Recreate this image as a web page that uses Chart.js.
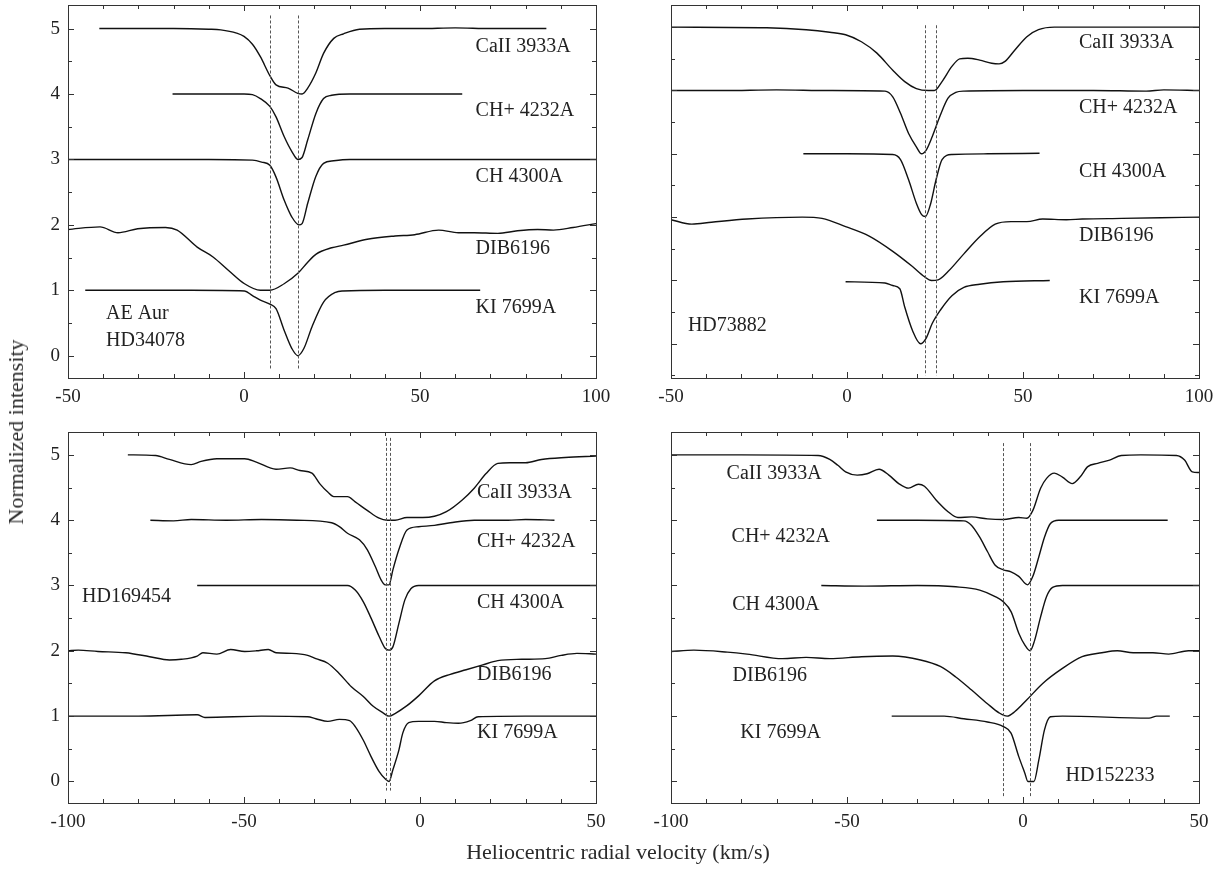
<!DOCTYPE html>
<html>
<head>
<meta charset="utf-8">
<script src="https://cdn.jsdelivr.net/npm/chart.js@4.4.1/dist/chart.umd.min.js"></script>
<style>
  body { margin: 0; background: #fff; width: 1228px; height: 869px; position: relative; overflow: hidden; }
  canvas { position: absolute; }
  .title { position: absolute; font-family: "Liberation Serif", serif; color: #2a2a2a; white-space: nowrap; font-size: 22px; }
</style>
</head>
<body>
<canvas id="p1" width="616" height="410" style="left:0;top:0"></canvas>
<canvas id="p2" width="618" height="410" style="left:610px;top:0"></canvas>
<canvas id="p3" width="616" height="430" style="left:0;top:420px"></canvas>
<canvas id="p4" width="618" height="430" style="left:610px;top:420px"></canvas>
<div class="title" style="left:618px;top:852px;transform:translate(-50%,-50%);">Heliocentric radial velocity (km/s)</div>
<div class="title" style="left:16px;top:432px;transform:translate(-50%,-50%) rotate(-90deg);">Normalized intensity</div>
<script>
// line names, same order in every panel
const lineNames = ["CaII 3933A", "CH+ 4232A", "CH 4300A", "DIB6196", "KI 7699A"];

// ---- panel 1: AE Aur / HD34078 ----
const p1CaII = [[-41.1,5.0],[-30,5.0],[-20,5.0],[-10,4.99],[-6.6,4.98],[-2.1,4.93],[0,4.88],[2.4,4.76],[4.65,4.57],[7.35,4.28],[9.1,4.14],[12.5,4.09],[15.3,4.01],[16.5,4.0],[18.1,4.09],[20.4,4.32],[22.6,4.62],[25.5,4.85],[28.3,4.92],[32.8,4.99],[40,5.0],[50,5.0],[60,5.01],[70,5.0],[80,5.0],[85.9,5.0]];
const p1CHp = [[-20.3,4.0],[-10,4.0],[0,4.0],[2.4,3.99],[4.65,3.93],[7.35,3.81],[9.1,3.65],[11.4,3.35],[13.6,3.12],[15.3,3.0],[16.5,3.03],[18.1,3.3],[20.4,3.7],[22.6,3.93],[24.9,3.98],[30,4.0],[45,4.0],[62,4.0]];
const p1CH = [[-50,3.0],[-30,3.0],[-10,3.0],[2.4,2.99],[5,2.96],[7.35,2.91],[9.1,2.73],[11.4,2.38],[13.6,2.12],[15.6,2.0],[16.5,2.02],[18.1,2.33],[20.4,2.74],[22.6,2.94],[25.5,2.98],[30,3.0],[60,3.0],[100,3.0]];
const p1DIB = [[-50,1.93],[-40.9,1.97],[-35.8,1.88],[-30.2,1.94],[-22.3,1.96],[-19,1.92],[-13.3,1.66],[-8.8,1.51],[-4.3,1.3],[0.15,1.1],[4.65,1.0],[7.35,1.0],[11.4,1.1],[15.3,1.26],[18.1,1.43],[20.4,1.55],[24.9,1.65],[28.3,1.69],[35,1.78],[42.9,1.83],[48.5,1.85],[55.3,1.92],[60.9,1.88],[65.4,1.88],[72.1,1.87],[77.7,1.91],[83.4,1.93],[87.9,1.92],[93.5,1.96],[100,2.02]];
const p1KI = [[-45.1,1.0],[-30,1.0],[-15,1.0],[0.15,0.99],[2.4,0.92],[4.65,0.85],[7.35,0.79],[9.1,0.72],[11.4,0.39],[13.6,0.11],[15.3,0.0],[17,0.11],[19.3,0.44],[22.6,0.82],[26,0.97],[28,0.99],[40,1.0],[55,1.0],[67.1,1.0]];

// ---- panel 2: HD73882 ----
const p2CaII = [[-50,5.0],[-22.8,4.99],[-11.6,4.96],[-4.9,4.92],[-0.4,4.88],[4.1,4.77],[8.5,4.59],[13,4.32],[16.4,4.14],[19.7,4.03],[23.1,4.0],[24.8,4.0],[27,4.14],[29.8,4.38],[32,4.5],[34.3,4.51],[37.7,4.48],[41.1,4.43],[43.2,4.42],[44.9,4.46],[47.7,4.64],[51.1,4.85],[54.4,4.96],[58.9,5.0],[80,5.0],[100,5.0]];
const p2CHp = [[-50,4.0],[-35,4.0],[-20,4.01],[-5,4.0],[10.8,3.99],[13,3.9],[15.2,3.64],[17.5,3.32],[19.7,3.11],[21.2,3.0],[22.5,3.06],[24.2,3.27],[26.5,3.61],[28.7,3.88],[30.9,3.97],[33.2,3.99],[50,4.0],[70,4.0],[85,3.99],[90,4.01],[100,4.0]];
const p2CH = [[-12.4,3.0],[0,3.0],[13,2.99],[15.2,2.91],[17.5,2.59],[19.7,2.22],[21.2,2.04],[22.3,2.01],[23.7,2.2],[25.3,2.59],[27,2.91],[29.8,2.99],[40,3.0],[54.7,3.01]];
const p2DIB = [[-50,1.96],[-44.1,1.89],[-38.5,1.92],[-28.4,1.97],[-12.7,2.0],[-7.1,1.98],[-0.4,1.85],[6.3,1.7],[13,1.46],[18.6,1.22],[22,1.06],[24,1.0],[25.9,1.01],[28.7,1.14],[33.2,1.42],[37.7,1.69],[42.1,1.89],[46.6,1.93],[51.1,1.93],[55.6,1.97],[62.3,1.96],[66.8,1.97],[78,1.98],[89.1,1.99],[100,2.0]];
const p2KI = [[-0.4,0.98],[10.8,0.96],[13,0.92],[15,0.87],[16.4,0.58],[18.6,0.21],[20.9,0.0],[22.5,0.09],[24.2,0.32],[26.5,0.53],[29.8,0.76],[33.2,0.89],[37.7,0.94],[44.4,0.98],[57.6,1.0]];

// ---- panel 3: HD169454 ----
const p3CaII = [[-83,5.0],[-75.1,4.99],[-71.2,4.93],[-65,4.85],[-62.2,4.9],[-57.7,4.94],[-49.8,4.94],[-46.5,4.89],[-40.9,4.78],[-36.9,4.8],[-34.1,4.76],[-30.7,4.72],[-28.5,4.56],[-26.2,4.43],[-24.5,4.36],[-20.6,4.36],[-18.4,4.28],[-15,4.15],[-11.6,4.03],[-9.4,4.0],[-7.1,4.0],[-3.7,4.04],[0.8,4.04],[4.1,4.06],[7.5,4.13],[12,4.31],[15.4,4.49],[18.7,4.71],[22.1,4.87],[25.5,4.88],[30,4.88],[34.5,4.93],[41.2,4.96],[50,4.98]];
const p3CHp = [[-76.6,4.0],[-70,3.99],[-65,4.01],[-55,4.0],[-45,4.01],[-35,4.0],[-25.1,3.96],[-22.9,3.9],[-20.6,3.8],[-17.2,3.7],[-15,3.55],[-12.7,3.29],[-11.1,3.09],[-9.9,3.01],[-8.8,3.01],[-7.7,3.24],[-6,3.55],[-3.7,3.85],[-0.4,3.9],[4.1,3.92],[8.6,3.96],[15.4,4.0],[25,4.0],[30,4.01],[38.2,4.0]];
const p3CH = [[-63.3,3.0],[-45,3.0],[-30,3.0],[-20.6,3.0],[-18.4,2.93],[-16.1,2.75],[-13.9,2.5],[-11.6,2.22],[-9.9,2.04],[-8.8,2.01],[-7.7,2.06],[-6,2.42],[-4.3,2.78],[-2.6,2.95],[-0.4,3.0],[20,3.0],[50,3.0]];
const p3DIB = [[-100,2.0],[-97.1,2.01],[-91.5,1.99],[-83.6,1.97],[-76.8,1.91],[-71.2,1.86],[-67.8,1.87],[-63.3,1.92],[-61.7,1.97],[-57.7,1.95],[-53.8,2.02],[-49.8,1.99],[-46.5,2.0],[-43.1,2.02],[-40.9,1.97],[-36.4,1.96],[-31.9,1.93],[-29.6,1.88],[-26.2,1.81],[-22.9,1.65],[-19.5,1.45],[-16.1,1.3],[-13.3,1.15],[-10.5,1.05],[-8.8,1.0],[-7.1,1.04],[-3.7,1.16],[-0.4,1.31],[4.1,1.54],[8.6,1.64],[13.1,1.71],[17.6,1.78],[22.1,1.85],[28.9,1.87],[35.6,1.88],[40.1,1.93],[44.6,1.96],[50,1.95]];
const p3KI = [[-100,1.0],[-80,1.0],[-63.3,1.02],[-61.1,0.98],[-45,1.0],[-31.9,0.99],[-29.6,0.96],[-26.2,0.92],[-22.9,0.95],[-20,0.93],[-18.4,0.84],[-16.1,0.63],[-13.9,0.38],[-11.6,0.15],[-9.9,0.04],[-8.8,0.0],[-7.7,0.18],[-6,0.48],[-4.9,0.74],[-3.2,0.9],[-0.4,0.92],[4.1,0.92],[7.5,0.9],[10.9,0.89],[14.3,0.93],[16.5,0.99],[30,1.0],[50,1.0]];

// ---- panel 4: HD152233 ----
const p4CaII = [[-100,5.0],[-80,5.0],[-58.2,4.99],[-54.9,4.93],[-52.6,4.84],[-50.4,4.74],[-47.1,4.69],[-44.3,4.71],[-40.9,4.78],[-38.1,4.69],[-35.3,4.56],[-32.5,4.49],[-29.7,4.55],[-28,4.52],[-24.7,4.31],[-21.3,4.13],[-18.5,4.04],[-14.6,4.05],[-10.1,4.02],[-5.6,4.01],[-1.2,4.04],[1.1,4.03],[2.8,4.15],[5,4.49],[6.7,4.64],[8.9,4.72],[11.2,4.66],[14,4.56],[16.2,4.66],[18.4,4.82],[21.2,4.87],[24.6,4.92],[27.9,4.99],[33.5,5.0],[43.6,4.99],[45.9,4.92],[48.1,4.74],[50,4.73]];
const p4CHp = [[-41.5,4.0],[-30,4.0],[-16.8,3.99],[-14.6,3.92],[-12.3,3.74],[-10.1,3.52],[-7.9,3.31],[-5.6,3.24],[-3.4,3.21],[-1.2,3.14],[1.3,3.01],[2.8,3.14],[4.5,3.44],[6.1,3.74],[7.8,3.95],[10.1,4.0],[25,4.0],[41.1,4.0]];
const p4CH = [[-57.3,3.0],[-45,2.99],[-30,3.0],[-19.1,2.98],[-12.3,2.93],[-7.9,2.83],[-5.6,2.75],[-3.4,2.6],[-1.2,2.27],[0.5,2.09],[2,2.0],[3.3,2.16],[5,2.52],[6.7,2.83],[8.4,2.97],[11.2,3.0],[30,3.0],[50,3.0]];
const p4DIB = [[-100,1.99],[-93.5,2.01],[-84,1.98],[-78.4,1.95],[-68.3,1.88],[-61.6,1.9],[-54.9,1.88],[-45.9,1.91],[-37,1.92],[-29.1,1.86],[-23.5,1.76],[-19.1,1.6],[-14.6,1.4],[-10.1,1.19],[-6.8,1.05],[-4.5,1.0],[-2.3,1.07],[1.1,1.25],[5.6,1.5],[11.2,1.73],[16.8,1.91],[22.4,1.97],[26.8,2.0],[31.3,1.97],[36.9,1.97],[41.4,1.95],[47,2.0],[50,2.0]];
const p4KI = [[-37.3,1.0],[-22.4,1.0],[-16.8,0.96],[-10.1,0.91],[-5.6,0.84],[-3.4,0.74],[-1.2,0.38],[0.5,0.13],[1.4,0.0],[3.1,0.0],[4.5,0.33],[6.1,0.79],[7.8,0.99],[11.2,1.0],[35.8,0.97],[38,1.0],[41.7,1.0]];

// x ranges, y ranges, tick values
const xRangeTop = [-50, 100];
const xRangeBottom = [-100, 50];
const xTicksTop = [-50, 0, 50, 100];
const xTicksBottom = [-100, -50, 0, 50];
const yTicks = [0, 1, 2, 3, 4, 5];
const yRanges = [[-0.34, 5.36], [-0.54, 5.35], [-0.33, 5.35], [-0.33, 5.35]];

// dashed velocity markers and their vertical extent
const p1Marks = [7.5, 15.4], p1MarkSpan = [-0.2, 5.2];
const p2Marks = [22.3, 25.2], p2MarkSpan = [-0.5, 5.03];
const p3Marks = [-9.8, -8.6], p3MarkSpan = [-0.14, 5.26];
const p4Marks = [-5.7, 2.1], p4MarkSpan = [-0.25, 5.18];

// label positions (x of left edge, y of centre)
const p1LabelPos = [[65.8,4.72],[65.8,3.74],[65.8,2.73],[65.8,1.64],[65.8,0.74]];
const p2LabelPos = [[65.9,4.76],[65.9,3.72],[65.9,2.72],[65.9,1.70],[65.9,0.72]];
const p3LabelPos = [[16.2,4.42],[16.2,3.67],[16.2,2.73],[16.2,1.63],[16.2,0.75]];
const p4LabelPos = [[-84.2,4.71],[-82.8,3.75],[-82.6,2.70],[-82.5,1.62],[-80.3,0.75]];
const p1Star = [["AE Aur", -39.2, 0.64], ["HD34078", -39.2, 0.23]];
const p2Star = [["HD73882", -45.2, 0.29]];
const p3Star = [["HD169454", -96.0, 2.83]];
const p4Star = [["HD152233", 12.1, 0.08]];

const FONT = '"Liberation Serif", "Times New Roman", serif';
const INK = "#222";

const panelPlugin = {
  id: "panelDecor",
  afterDatasetsDraw(chart, args, opts) {
    const { ctx, chartArea: a, scales } = chart;
    const xs = scales.x, ys = scales.y;
    ctx.save();
    // dashed markers
    ctx.strokeStyle = "#555";
    ctx.lineWidth = 1;
    ctx.setLineDash([3, 2]);
    opts.marks.forEach(v => {
      const px = Math.round(xs.getPixelForValue(v)) + 0.5;
      ctx.beginPath();
      ctx.moveTo(px, ys.getPixelForValue(opts.span[1]));
      ctx.lineTo(px, ys.getPixelForValue(opts.span[0]));
      ctx.stroke();
    });
    ctx.setLineDash([]);
    // frame
    ctx.strokeStyle = "#333";
    ctx.strokeRect(Math.round(a.left) + 0.5, Math.round(a.top) + 0.5, Math.round(a.width), Math.round(a.height));
    // inward ticks on all four sides
    ctx.beginPath();
    for (let v = xs.min; v <= xs.max; v += 10) {
      const px = Math.round(xs.getPixelForValue(v)) + 0.5;
      const len = v % 50 === 0 ? 6 : 4;
      ctx.moveTo(px, a.bottom); ctx.lineTo(px, a.bottom - len);
      ctx.moveTo(px, a.top); ctx.lineTo(px, a.top + len);
    }
    for (let v = Math.ceil(ys.min * 2) / 2; v <= ys.max; v += 0.5) {
      const py = Math.round(ys.getPixelForValue(v)) + 0.5;
      const len = v % 1 === 0 ? 6 : 4;
      ctx.moveTo(a.left, py); ctx.lineTo(a.left + len, py);
      ctx.moveTo(a.right, py); ctx.lineTo(a.right - len, py);
    }
    ctx.stroke();
    // line names and star names
    ctx.fillStyle = INK;
    ctx.font = "20px " + FONT;
    ctx.textAlign = "left";
    ctx.textBaseline = "middle";
    opts.labels.forEach((p, i) => {
      ctx.fillText(lineNames[i], xs.getPixelForValue(p[0]), ys.getPixelForValue(p[1]));
    });
    opts.star.forEach(s => {
      ctx.fillText(s[0], xs.getPixelForValue(s[1]), ys.getPixelForValue(s[2]));
    });
    ctx.restore();
  }
};

// keep the tick labels from pushing the plot area inwards
function noPad(sc) {
  sc.paddingLeft = 0; sc.paddingRight = 0; sc.paddingTop = 0; sc.paddingBottom = 0;
}

function makePanel(id, series, xRange, xTicks, yRange, showY, yAxisW, xAxisH, pad, marks, span, labels, star) {
  const ctx = document.getElementById(id).getContext("2d");
  return new Chart(ctx, {
    type: "line",
    data: {
      datasets: series.map((s, i) => ({
        label: lineNames[i],
        data: s.map(p => ({ x: p[0], y: p[1] })),
        borderColor: "#111",
        borderWidth: 1.4,
        pointRadius: 0,
        fill: false,
        cubicInterpolationMode: "monotone",
      })),
    },
    options: {
      responsive: false,
      animation: false,
      events: [],
      layout: { padding: pad },
      plugins: {
        legend: { display: false },
        tooltip: { enabled: false },
        panelDecor: { marks: marks, span: span, labels: labels, star: star },
      },
      scales: {
        x: {
          type: "linear",
          min: xRange[0],
          max: xRange[1],
          afterBuildTicks: sc => { sc.ticks = xTicks.map(v => ({ value: v })); },
          afterFit: sc => { sc.height = xAxisH; noPad(sc); },
          grid: { display: false, drawTicks: false },
          border: { display: false },
          ticks: { color: INK, font: { family: FONT, size: 19 }, padding: 8, maxRotation: 0 },
        },
        y: {
          type: "linear",
          min: yRange[0],
          max: yRange[1],
          afterBuildTicks: sc => { sc.ticks = yTicks.map(v => ({ value: v })); },
          afterFit: sc => { sc.width = yAxisW; noPad(sc); },
          grid: { display: false, drawTicks: false },
          border: { display: false },
          ticks: { display: showY, color: INK, font: { family: FONT, size: 19 }, padding: 8 },
        },
      },
    },
    plugins: [panelPlugin],
  });
}

makePanel("p1", [p1CaII, p1CHp, p1CH, p1DIB, p1KI], xRangeTop, xTicksTop, yRanges[0], true, 68, 32,
  { top: 5, right: 20, left: 0, bottom: 0 }, p1Marks, p1MarkSpan, p1LabelPos, p1Star);
makePanel("p2", [p2CaII, p2CHp, p2CH, p2DIB, p2KI], xRangeTop, xTicksTop, yRanges[1], false, 61, 32,
  { top: 5, right: 29, left: 0, bottom: 0 }, p2Marks, p2MarkSpan, p2LabelPos, p2Star);
makePanel("p3", [p3CaII, p3CHp, p3CH, p3DIB, p3KI], xRangeBottom, xTicksBottom, yRanges[2], true, 68, 47,
  { top: 12, right: 20, left: 0, bottom: 0 }, p3Marks, p3MarkSpan, p3LabelPos, p3Star);
makePanel("p4", [p4CaII, p4CHp, p4CH, p4DIB, p4KI], xRangeBottom, xTicksBottom, yRanges[3], false, 61, 47,
  { top: 12, right: 29, left: 0, bottom: 0 }, p4Marks, p4MarkSpan, p4LabelPos, p4Star);
</script>
</body>
</html>
